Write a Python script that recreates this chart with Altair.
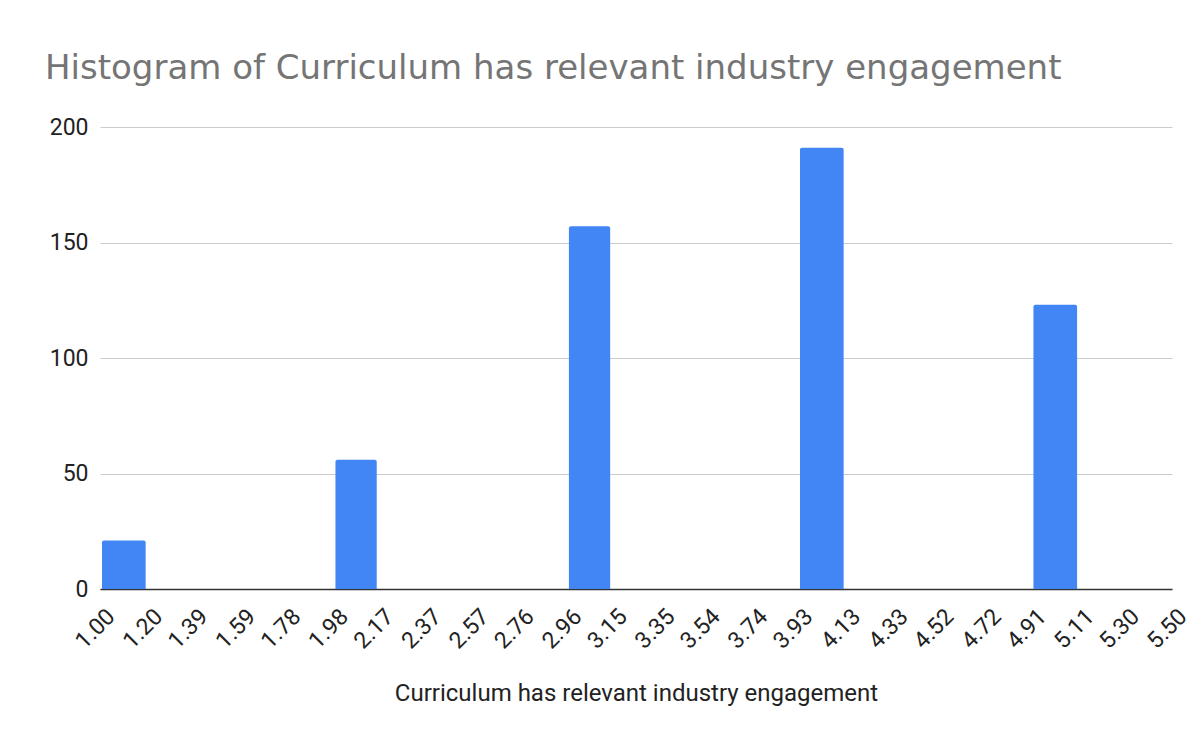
import altair as alt
import pandas as pd

tick_labels = ["1.00", "1.20", "1.39", "1.59", "1.78", "1.98", "2.17", "2.37",
               "2.57", "2.76", "2.96", "3.15", "3.35", "3.54", "3.74", "3.93",
               "4.13", "4.33", "4.52", "4.72", "4.91", "5.11", "5.30", "5.50"]
counts = [21, 0, 0, 0, 0, 56, 0, 0, 0, 0, 157, 0, 0, 0, 0, 191, 0, 0, 0, 0, 123, 0, 0]

edges = [float(t) for t in tick_labels]
df = pd.DataFrame({
    "start": edges[:-1],
    "end": edges[1:],
    "count": counts,
})

FONT = "Roboto"
TITLE_FONT = "DejaVu Sans"

chart = alt.Chart(df).mark_bar(
    color="#4285F4",
    cornerRadiusTopLeft=2,
    cornerRadiusTopRight=2,
    xOffset=2,
    x2Offset=-2,
).encode(
    x=alt.X(
        "start:Q",
        scale=alt.Scale(domain=[1.0, 5.5], nice=False, zero=False),
        axis=alt.Axis(
            title="Curriculum has relevant industry engagement",
            values=edges,
            format=".2f",
            labelAngle=-45,
            labelAlign="right",
            labelBaseline="top",
            labelOffset=3,
            labelPadding=16,
            labelFontSize=23,
            labelColor="#222222",
            labelFont=FONT,
            labelOverlap=False,
            labelFlush=False,
            ticks=False,
            grid=False,
            domain=True,
            domainColor="#333333",
            domainWidth=1.5,
            titleFont=FONT,
            titleFontSize=24,
            titleFontWeight="normal",
            titleColor="#222222",
            titlePadding=29,
        ),
    ),
    x2="end:Q",
    y=alt.Y(
        "count:Q",
        scale=alt.Scale(domain=[0, 200], nice=False),
        axis=alt.Axis(
            title=None,
            values=[0, 50, 100, 150, 200],
            labelFontSize=23,
            labelColor="#222222",
            labelFont=FONT,
            labelPadding=12,
            ticks=False,
            domain=False,
            grid=True,
            gridColor="#cccccc",
            gridWidth=1,
        ),
    ),
    y2=alt.datum(0),
).properties(
    width=1072,
    height=462,
    title=alt.TitleParams(
        text="Histogram of Curriculum has relevant industry engagement",
        font=TITLE_FONT,
        fontSize=34,
        fontWeight="normal",
        color="#757575",
        anchor="start",
        frame="group",
        dx=-55,
        offset=30,
    ),
    autosize=alt.AutoSizeParams(type="none"),
    padding={"left": 92, "top": 119, "right": 22, "bottom": 128},
    background="white",
).configure_view(stroke=None)

chart.save("out.html", embed_options={"renderer": "svg", "actions": False})
